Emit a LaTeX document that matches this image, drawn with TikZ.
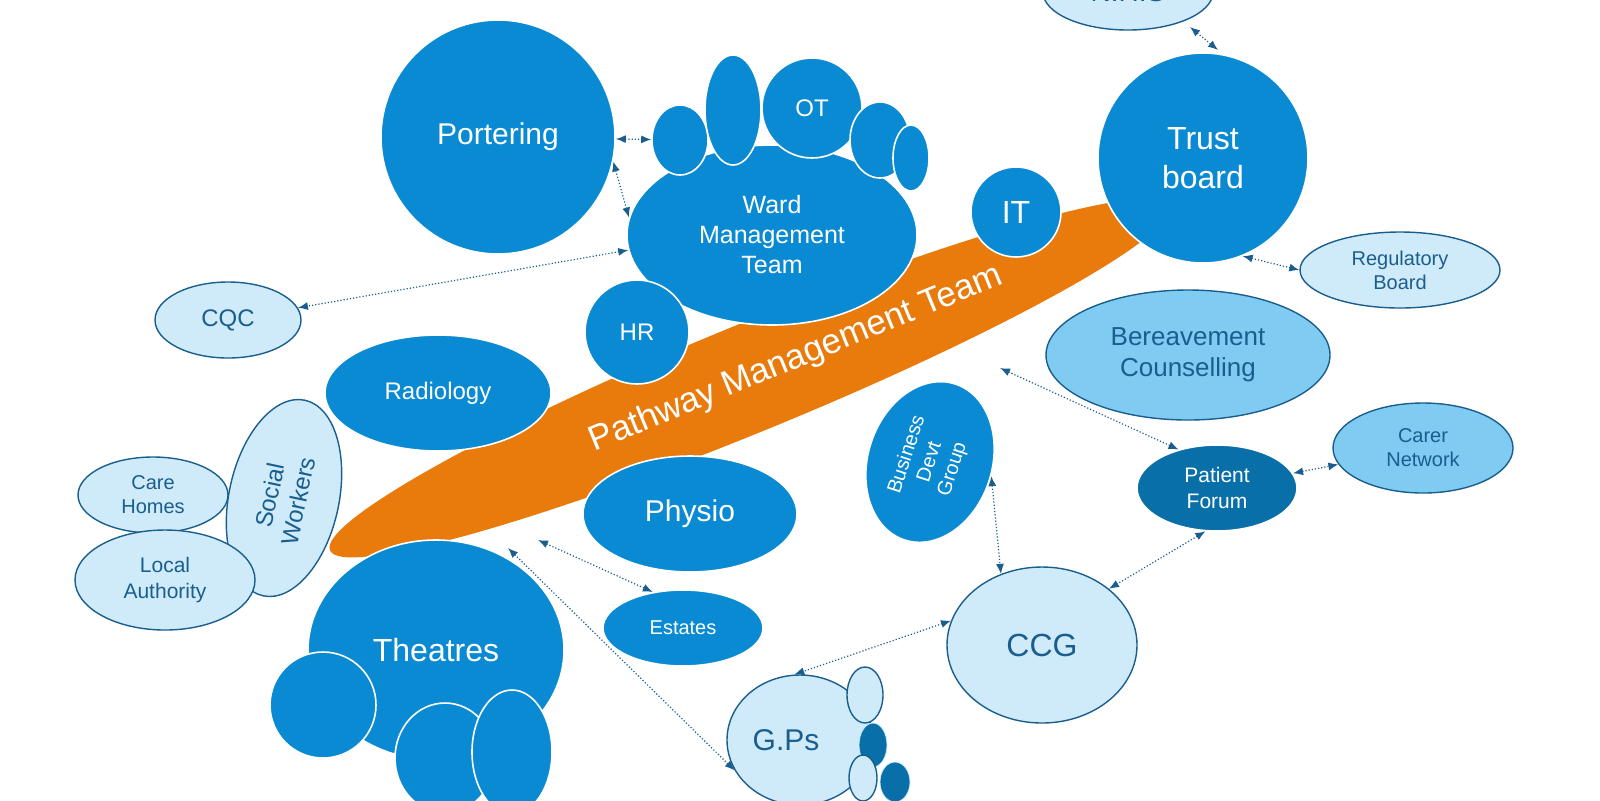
\documentclass[tikz,border=0pt]{standalone}
\usepackage{fontspec}
\setmainfont{Liberation Sans}
\usetikzlibrary{shapes.geometric,arrows.meta}
\definecolor{dk}{HTML}{0A8AD2}
\definecolor{lt}{HTML}{CFEBFA}
\definecolor{md}{HTML}{7FCBF2}
\definecolor{nv}{HTML}{086FA8}
\definecolor{tx}{HTML}{1A5E8E}
\definecolor{og}{HTML}{E97B0C}
\begin{document}
\begin{tikzpicture}[x=0.5pt,y=-0.5pt,
  ell/.style={ellipse,inner sep=0pt,align=center,font=\fontsize{#1}{\fpeval{1.2*#1}}\selectfont},
  dark/.style={ell=#1,fill=dk,draw=white,line width=0.8pt,text=white},
  light/.style={ell=#1,fill=lt,draw=tx,line width=0.7pt,text=tx},
  lnk/.style={densely dotted,draw=tx,line width=0.6pt,{Latex[length=5pt,width=4pt]}-{Latex[length=5pt,width=4pt]}}]
\useasboundingbox (0,0) rectangle (1600,800);
\clip (0,0) rectangle (1600,800);
\node[light=14, minimum width=85pt, minimum height=38pt] (nhs) at (1128,-8) {N.H.S};
\node[light=12, minimum width=100pt, minimum height=55pt, rotate=78] (sw) at (284,498) {Social\\Workers};
\node[fill=og, ellipse, minimum width=454pt, minimum height=54pt, rotate=22.3, inner sep=0pt, text=white, font=\fontsize{17.5}{17.5}\selectfont] (pmt) at (750,378) {\hspace{50pt}\raisebox{-8pt}{Pathway Management Team}};
\node[light=10, minimum width=75pt, minimum height=38pt] (care) at (153,495) {Care\\Homes};
\node[light=10.5, minimum width=90pt, minimum height=50pt] (la) at (165,580) {Local\\Authority};
\node[dark=16, minimum width=105pt, minimum height=105pt] (trust) at (1203,158) {Trust\\board};
\node[dark=15, minimum width=117pt, minimum height=117pt] (port) at (498,137) {Portering};
\node[dark=12.5, minimum width=145pt, minimum height=90pt] (ward) at (772,235) {Ward\\Management\\Team};
\node[dark=1, minimum width=28pt, minimum height=35pt] (w1) at (680,140) {};
\node[dark=1, minimum width=28pt, minimum height=55pt] (w2) at (733,110) {};
\node[dark=12, minimum width=50pt, minimum height=50pt] (ot) at (812,108) {OT};
\node[dark=1, minimum width=30pt, minimum height=38pt] (w3) at (880,140) {};
\node[dark=1, minimum width=18pt, minimum height=33pt] (w4) at (911,158) {};
\node[dark=16, minimum width=45pt, minimum height=45pt] (it) at (1016,212) {IT};
\node[light=10, minimum width=100pt, minimum height=38pt] (reg) at (1400,270) {Regulatory\\Board};
\node[light=12, minimum width=73pt, minimum height=38pt] (cqc) at (228,320) {CQC};
\node[dark=12, minimum width=52pt, minimum height=52pt] (hr) at (637,332) {HR};
\node[dark=12, minimum width=113pt, minimum height=58pt] (rad) at (438,393) {Radiology};
\node[ell=13, fill=md, draw=tx, line width=0.7pt, text=tx, minimum width=142pt, minimum height=65pt] (ber) at (1188,355) {Bereavement\\Counselling};
\node[dark=10, minimum width=82pt, minimum height=62pt, rotate=72] (bdg) at (930,462) {Business\\Devt\\Group};
\node[dark=10.5, fill=nv, minimum width=80pt, minimum height=43pt] (pf) at (1217,488) {Patient\\Forum};
\node[ell=10, fill=md, draw=tx, line width=0.7pt, text=tx, minimum width=90pt, minimum height=45pt] (carer) at (1423,448) {Carer\\Network};
\node[dark=15, minimum width=107pt, minimum height=58pt] (physio) at (690,514) {Physio};
\node[dark=10, minimum width=80pt, minimum height=38pt] (est) at (683,628) {Estates};
\node[light=16, minimum width=95pt, minimum height=78pt] (ccg) at (1042,645) {CCG};
\node[dark=16, minimum width=128pt, minimum height=110pt] (th) at (436,650) {Theatres};
\node[dark=1, minimum width=53pt, minimum height=53pt] (t1) at (323,705) {};
\node[dark=1, minimum width=50pt, minimum height=55pt] (t2) at (445,758) {};
\node[dark=1, minimum width=40pt, minimum height=62pt] (t3) at (512,752) {};
\node[light=15, minimum width=73pt, minimum height=65pt] (gp) at (800,740) {\hspace*{-14pt}G.Ps};
\node[light=1, minimum width=18pt, minimum height=28pt] (g1) at (865,695) {};
\node[ell=1, fill=nv, draw=lt, minimum width=14pt, minimum height=22pt] (g2) at (873,745) {};
\node[light=1, minimum width=14pt, minimum height=23pt] (g3) at (863,778) {};
\node[ell=1, fill=nv, draw=lt, minimum width=15pt, minimum height=20pt] (g4) at (895,782) {};
\coordinate (p1) at (1000,368);
\coordinate (p2) at (538,540);
\coordinate (p3) at (508,548);
\coordinate (n1) at (1190,27);
\coordinate (t0) at (1218,50);
\draw[lnk] (n1) -- (t0);
\draw[lnk] (port) -- (w1);
\draw[lnk] (port.-12) -- (ward.173);
\draw[lnk] (ward.186) -- (cqc);
\draw[lnk] (trust.-68) -- (reg.west);
\draw[lnk] (p1) -- (pf.135);
\draw[lnk] (pf) -- (carer);
\draw[lnk] (pf.-105) -- (ccg.40);
\draw[lnk] (bdg.-85) -- (ccg.120);
\draw[lnk] (ccg.165) -- (gp.95);
\draw[lnk] (p2) -- (est.130);
\draw[lnk] (p3) -- (gp.205);
\end{tikzpicture}
\end{document}
